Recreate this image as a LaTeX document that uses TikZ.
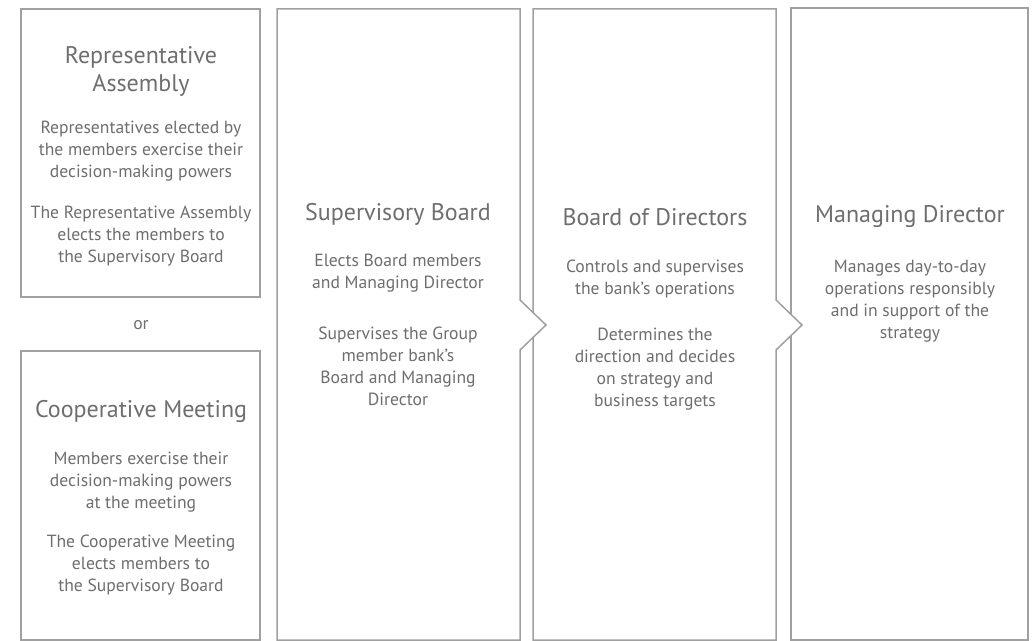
\documentclass[tikz,border=0pt]{standalone}
\usepackage{fontspec}
\setmainfont{PT Sans}
\definecolor{boxgray}{HTML}{A0A0A0}
\definecolor{txtgray}{HTML}{6E6E6E}
\tikzset{
  panel/.style={draw=boxgray, line width=0.75pt, fill=white},
  head/.style={text=txtgray, align=center, font=\fontsize{12}{14}\selectfont},
  body/.style={text=txtgray, align=center, font=\fontsize{8.8}{11}\selectfont},
}

\begin{document}
\begin{tikzpicture}[x=0.5pt, y=-0.5pt]
  \useasboundingbox (0,0) rectangle (1033,641);
  % panels, right to left so each chevron hides the next edge
  \draw[panel] (791,8) rectangle (1028,640);
  \draw[panel] (533,9) -- (776,9) -- (776,300) -- (802,325) -- (776,350) -- (776,640) -- (533,640) -- cycle;
  \draw[panel] (277,9) -- (520,9) -- (520,300) -- (546,325) -- (520,350) -- (520,640) -- (277,640) -- cycle;
  \draw[panel] (21,9) rectangle (260,297);
  \draw[panel] (21,351) rectangle (260,640);

  \node[head] (ra) at (141, 71) {Representative\\Assembly};
  \node[body] (ra1) at (141, 151) {Representatives elected by\\the members exercise their\\decision-making powers};
  \node[body] (ra2) at (141, 236) {The Representative Assembly\\elects the members to\\the Supervisory Board};
  \node[body] (or) at (141, 325) {or};
  \node[head] (cm) at (141, 412) {Cooperative Meeting};
  \node[body] (cm1) at (141, 482) {Members exercise their\\decision-making powers\\at the meeting};
  \node[body] (cm2) at (141, 565) {The Cooperative Meeting\\elects members to\\the Supervisory Board};

  \node[head] (sb) at (398, 214) {Supervisory Board};
  \node[body] (sb1) at (398, 273) {Elects Board members\\and Managing Director};
  \node[body] (sb2) at (398, 366) {Supervises the Group\\member bank’s\\Board and Managing\\Director};

  \node[head] (bd) at (655, 217) {Board of Directors};
  \node[body] (bd1) at (655, 279) {Controls and supervises\\the bank’s operations};
  \node[body] (bd2) at (655, 369) {Determines the\\direction and decides\\on strategy and\\business targets};

  \node[head] (md) at (910, 217) {Managing Director};
  \node[body] (md1) at (910, 301) {Manages day-to-day\\operations responsibly\\and in support of the\\strategy};
\end{tikzpicture}
\end{document}
